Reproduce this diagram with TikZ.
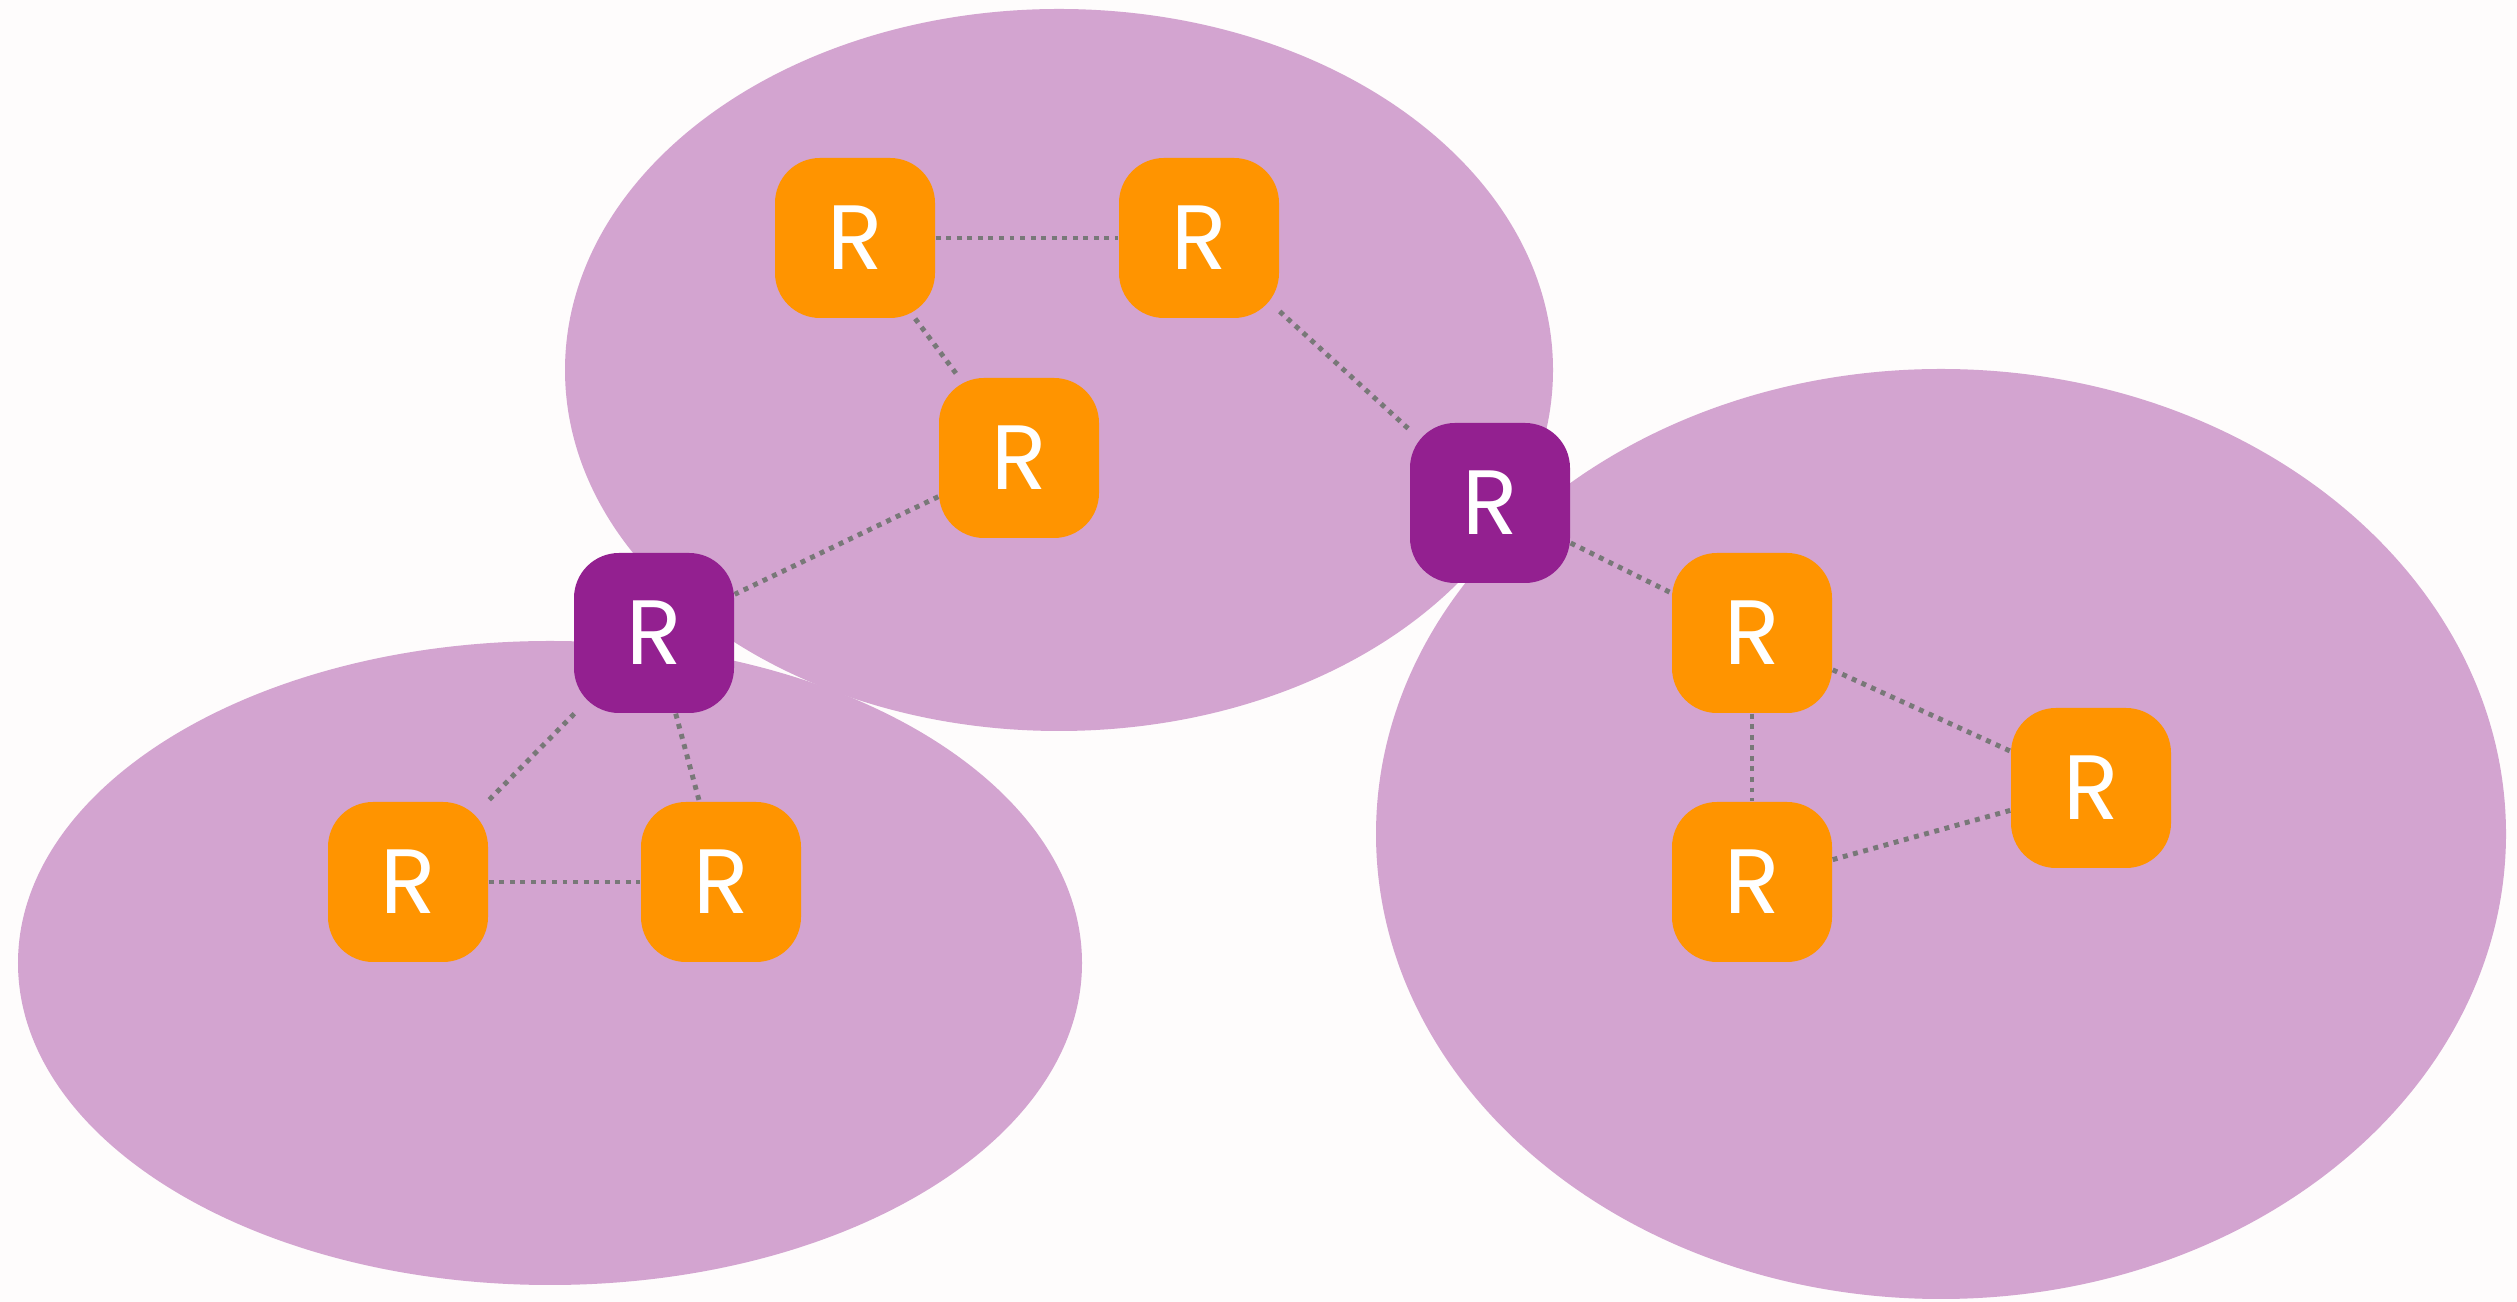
\documentclass[tikz,border=0pt]{standalone}
\usepackage{fontspec}
\setmainfont{Poppins}

\definecolor{pagebg}{RGB}{254,252,252}
\definecolor{areafill}{RGB}{211,164,208}
\definecolor{routerorange}{RGB}{255,148,0}
\definecolor{routerpurple}{RGB}{147,32,144}
\definecolor{linkgray}{RGB}{120,120,120}

\begin{document}
\begin{tikzpicture}[
    router/.style={rounded corners=0.45cm, minimum size=1.6cm, inner sep=0pt,
      text=white, font=\fontsize{26}{26}\selectfont},
    internal/.style={router, fill=routerorange},
    border/.style={router, fill=routerpurple},
    link/.style={linkgray, line width=1.4pt, dash pattern=on 1.4pt off 1.6pt}
  ]
  \fill[pagebg] (0, 0) rectangle (25.17, 13.02);
  \useasboundingbox (0, 0) rectangle (25.17, 13.02);

  % Areas
  \fill[areafill] (10.59, 9.32) ellipse (4.94 and 3.61);
  \fill[areafill] (5.50, 3.39) ellipse (5.32 and 3.22);
  \fill[areafill] (19.41, 4.68) ellipse (5.65 and 4.65);

  % Routers of the upper area
  \node[internal] (a) at (8.55, 10.64) {R};
  \node[internal] (b) at (11.99, 10.64) {R};
  \node[internal] (c) at (10.19, 8.44) {R};

  % Area border routers
  \node[border] (p) at (14.90, 7.99) {R};
  \node[border] (q) at (6.54, 6.69) {R};

  % Routers of the right area
  \node[internal] (d) at (17.52, 6.69) {R};
  \node[internal] (g) at (20.91, 5.14) {R};
  \node[internal] (h) at (17.52, 4.20) {R};

  % Routers of the left area
  \node[internal] (e) at (4.08, 4.20) {R};
  \node[internal] (f) at (7.21, 4.20) {R};

  % Links
  \draw[link] (a) -- (b);
  \draw[link] (a) -- (c);
  \draw[link] (b) -- (p);
  \draw[link] (c) -- (q);
  \draw[link] (p) -- (d);
  \draw[link] (q) -- (e);
  \draw[link] (q) -- (f);
  \draw[link] (e) -- (f);
  \draw[link] (d) -- (h);
  \draw[link] (d) -- (g);
  \draw[link] (h) -- (g);
\end{tikzpicture}
\end{document}
